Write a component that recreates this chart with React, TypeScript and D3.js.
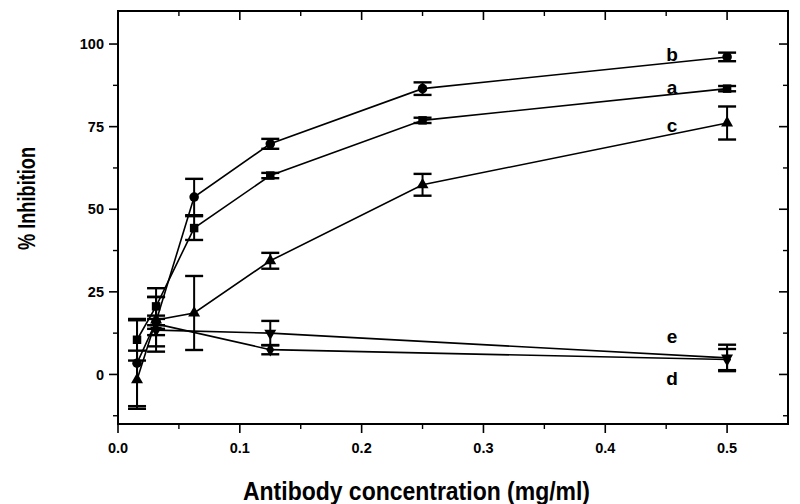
import React from "react";
import * as d3 from "d3";

const concentrations = [0.015625, 0.03125, 0.0625, 0.125, 0.25, 0.5];
const concentrationsDE = [0.03125, 0.125, 0.5];

const seriesA = [10.5, 20.6, 44.3, 60.2, 76.9, 86.5];
const errorsA = [6.3, 2.8, 3.6, 0.8, 0.8, 0.8];
const seriesB = [3.4, 16.0, 53.7, 69.8, 86.5, 96.1];
const errorsB = [13.0, 7.5, 5.5, 1.5, 1.9, 1.3];
const seriesC = [-1.6, 16.5, 18.6, 34.4, 57.4, 76.1];
const errorsC = [8.8, 9.6, 11.2, 2.4, 3.3, 5.0];
const seriesD = [15.3, 7.5, 4.5];
const errorsD = [1.5, 1.4, 3.2];
const seriesE = [13.4, 12.5, 5.0];
const errorsE = [1.5, 3.7, 4.0];

const xMajorTicks = [0, 0.1, 0.2, 0.3, 0.4, 0.5];
const xMinorTicks = [0.05, 0.15, 0.25, 0.35, 0.45];
const yMajorTicks = [0, 25, 50, 75, 100];
const yMinorTicks = [-12.5, 12.5, 37.5, 62.5, 87.5];

const curveLabels = ["b", "a", "c", "e", "d"];
const curveLabelValues = [96.8, 86.8, 75.5, 11.5, -1.0];

const W = 800;
const H = 504;
const L = 118, R = 788, T = 11, B = 424;

const x = d3.scaleLinear().domain([0, 0.55]).range([L, R]);
const y = d3.scaleLinear().domain([-15, 110]).range([B, T]);

const FONT = "'Liberation Sans', Arial, Helvetica, sans-serif";

type Series = { key: string; xs: number[]; ys: number[]; errs: number[]; symbol: d3.SymbolType; size: number; rotate: number };

const series: Series[] = [
  { key: "d", xs: concentrationsDE, ys: seriesD, errs: errorsD, symbol: d3.symbolDiamond, size: 55, rotate: 0 },
  { key: "e", xs: concentrationsDE, ys: seriesE, errs: errorsE, symbol: d3.symbolTriangle, size: 62, rotate: 180 },
  { key: "c", xs: concentrations, ys: seriesC, errs: errorsC, symbol: d3.symbolTriangle, size: 62, rotate: 0 },
  { key: "a", xs: concentrations, ys: seriesA, errs: errorsA, symbol: d3.symbolSquare, size: 72, rotate: 0 },
  { key: "b", xs: concentrations, ys: seriesB, errs: errorsB, symbol: d3.symbolCircle, size: 72, rotate: 0 },
];

export default function App() {
  const line = d3.line<[number, number]>().x((d) => x(d[0])).y((d) => y(d[1]));
  const cap = 9;
  return (
    <svg width={W} height={H} style={{ position: "absolute", left: 0, top: 0, background: "#fff" }} fontFamily={FONT}>
      <rect x={0} y={0} width={W} height={H} fill="#fff" />
      {/* lines */}
      {series.map((s) => (
        <path key={"l" + s.key} d={line(s.xs.map((v, i) => [v, s.ys[i]]) as [number, number][]) || ""} fill="none" stroke="#000" strokeWidth={1.6} />
      ))}
      {/* error bars */}
      {series.map((s) =>
        s.xs.map((v, i) => {
          const cx = x(v);
          const y1 = y(s.ys[i] + s.errs[i]);
          const y2 = y(s.ys[i] - s.errs[i]);
          return (
            <g key={"e" + s.key + i} stroke="#000">
              <line x1={cx} x2={cx} y1={y1} y2={y2} strokeWidth={2} />
              <line x1={cx - cap} x2={cx + cap} y1={y1} y2={y1} strokeWidth={2.4} />
              <line x1={cx - cap} x2={cx + cap} y1={y2} y2={y2} strokeWidth={2.4} />
            </g>
          );
        })
      )}
      {/* markers */}
      {series.map((s) =>
        s.xs.map((v, i) => (
          <path
            key={"m" + s.key + i}
            d={d3.symbol().type(s.symbol).size(s.size)() || ""}
            transform={`translate(${x(v)},${y(s.ys[i])}) rotate(${s.rotate})`}
            fill="#000"
          />
        ))
      )}
      {/* frame */}
      <rect x={L} y={T} width={R - L} height={B - T} fill="none" stroke="#000" strokeWidth={2} />
      {/* x ticks */}
      {xMajorTicks.map((t) => (
        <g key={"xt" + t} stroke="#000" strokeWidth={1.6}>
          <line x1={x(t)} x2={x(t)} y1={B} y2={B + 9} />
          <line x1={x(t)} x2={x(t)} y1={T} y2={T + 9} />
        </g>
      ))}
      {xMinorTicks.map((t) => (
        <g key={"xm" + t} stroke="#000" strokeWidth={1.4}>
          <line x1={x(t)} x2={x(t)} y1={B} y2={B + 5} />
          <line x1={x(t)} x2={x(t)} y1={T} y2={T + 5} />
        </g>
      ))}
      {xMajorTicks.map((t) => (
        <text key={"xl" + t} x={x(t)} y={453} textAnchor="middle" fontSize={14.5} fontWeight="bold">
          {t.toFixed(1)}
        </text>
      ))}
      {/* y ticks */}
      {yMajorTicks.map((t) => (
        <g key={"yt" + t} stroke="#000" strokeWidth={1.6}>
          <line x1={L - 9} x2={L} y1={y(t)} y2={y(t)} />
          <line x1={R - 9} x2={R} y1={y(t)} y2={y(t)} />
        </g>
      ))}
      {yMinorTicks.map((t) => (
        <g key={"ym" + t} stroke="#000" strokeWidth={1.4}>
          <line x1={L - 5} x2={L} y1={y(t)} y2={y(t)} />
          <line x1={R - 5} x2={R} y1={y(t)} y2={y(t)} />
        </g>
      ))}
      {yMajorTicks.map((t) => (
        <text key={"yl" + t} x={104} y={y(t)} dy="0.36em" textAnchor="end" fontSize={14.5} fontWeight="bold">
          {t}
        </text>
      ))}
      {/* curve labels */}
      {curveLabels.map((lab, i) => (
        <text key={"cl" + lab} x={672} y={y(curveLabelValues[i])} dy="0.36em" textAnchor="middle" fontSize={19} fontWeight="bold">
          {lab}
        </text>
      ))}
      {/* axis titles */}
      <text x={243} y={500} fontSize={25} fontWeight="bold" textLength={347} lengthAdjust="spacingAndGlyphs">
        Antibody concentration (mg/ml)
      </text>
      <text
        transform={`translate(35,250) rotate(-90)`}
        fontSize={23}
        fontWeight="bold"
        textLength={103}
        lengthAdjust="spacingAndGlyphs"
      >
        % Inhibition
      </text>
    </svg>
  );
}
